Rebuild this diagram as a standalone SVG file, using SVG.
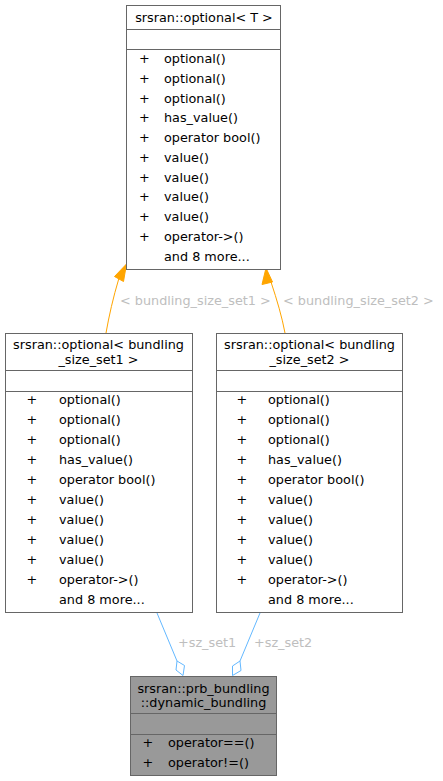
<svg xmlns="http://www.w3.org/2000/svg" width="443" height="781" viewBox="0 0 443 781">
<style>
text{font-family:"DejaVu Sans",sans-serif;font-size:12.8px;fill:#000}
.c{text-anchor:middle}
.box{fill:#fff;stroke:#666;stroke-width:1}
.sel{fill:#999;stroke:#666;stroke-width:1}
.ln{stroke:#666;stroke-width:1}
.lbl{fill:#bebebe}
.inh{fill:none;stroke:#ffa500;stroke-width:1}
.agg{fill:none;stroke:#63b8ff;stroke-width:1}
</style>
<rect width="443" height="781" fill="#fff"/>
<g id="edges">
<path class="inh" d="M106,333 C109,316 113,298 119,278"/>
<polygon points="114.5,276.5 126.5,264 123.5,281.5" fill="#ffa500" stroke="#ffa500"/>
<text class="lbl" x="120" y="305">&lt; bundling_size_set1 &gt;</text>
<path class="inh" d="M285,333 C282,317 277,300 271,282"/>
<polygon points="262,284.5 266,268 272.5,282" fill="#ffa500" stroke="#ffa500"/>
<text class="lbl" x="283" y="305">&lt; bundling_size_set2 &gt;</text>
<path class="agg" d="M157,613 L177,661"/>
<polygon points="177,661 184.5,665.5 183,675.5 176,670" fill="#fff" stroke="#63b8ff"/>
<text class="lbl" x="178" y="647">+sz_set1</text>
<path class="agg" d="M260,613 L240,661"/>
<polygon points="240,661 241,670.5 232.5,675.5 232.5,666" fill="#fff" stroke="#63b8ff"/>
<text class="lbl" x="254" y="647">+sz_set2</text>
</g>
<g id="node_optional_T">
<rect class="box" x="126.5" y="5.5" width="154" height="264"/>
<line class="ln" x1="126.5" y1="29.5" x2="280.5" y2="29.5"/>
<line class="ln" x1="126.5" y1="49.5" x2="280.5" y2="49.5"/>
<text class="c" x="204" y="22">srsran::optional&lt; T &gt;</text>
<text x="139" y="63">+</text><text x="164" y="63">optional()</text>
<text x="139" y="82.75">+</text><text x="164" y="82.75">optional()</text>
<text x="139" y="102.5">+</text><text x="164" y="102.5">optional()</text>
<text x="139" y="122.25">+</text><text x="164" y="122.25">has_value()</text>
<text x="139" y="142">+</text><text x="164" y="142">operator bool()</text>
<text x="139" y="161.75">+</text><text x="164" y="161.75">value()</text>
<text x="139" y="181.5">+</text><text x="164" y="181.5">value()</text>
<text x="139" y="201.25">+</text><text x="164" y="201.25">value()</text>
<text x="139" y="221">+</text><text x="164" y="221">value()</text>
<text x="139" y="240.75">+</text><text x="164" y="240.75">operator-&gt;()</text>
<text x="164" y="260.5">and 8 more...</text>
</g>
<g id="node_optional_set1">
<rect class="box" x="5.5" y="333.5" width="187" height="279"/>
<line class="ln" x1="5.5" y1="370.5" x2="192.5" y2="370.5"/>
<line class="ln" x1="5.5" y1="391.5" x2="192.5" y2="391.5"/>
<text class="c" x="98.5" y="349.3">srsran::optional&lt; bundling</text>
<text class="c" x="98.5" y="364.3">_size_set1 &gt;</text>
<text x="26.5" y="403.5">+</text><text x="59" y="403.5">optional()</text>
<text x="26.5" y="423.5">+</text><text x="59" y="423.5">optional()</text>
<text x="26.5" y="443.5">+</text><text x="59" y="443.5">optional()</text>
<text x="26.5" y="463.5">+</text><text x="59" y="463.5">has_value()</text>
<text x="26.5" y="483.5">+</text><text x="59" y="483.5">operator bool()</text>
<text x="26.5" y="503.5">+</text><text x="59" y="503.5">value()</text>
<text x="26.5" y="523.5">+</text><text x="59" y="523.5">value()</text>
<text x="26.5" y="543.5">+</text><text x="59" y="543.5">value()</text>
<text x="26.5" y="563.5">+</text><text x="59" y="563.5">value()</text>
<text x="26.5" y="583.5">+</text><text x="59" y="583.5">operator-&gt;()</text>
<text x="59" y="603.5">and 8 more...</text>
</g>
<g id="node_optional_set2">
<rect class="box" x="216.5" y="333.5" width="186" height="279"/>
<line class="ln" x1="216.5" y1="370.5" x2="402.5" y2="370.5"/>
<line class="ln" x1="216.5" y1="391.5" x2="402.5" y2="391.5"/>
<text class="c" x="309.5" y="349.3">srsran::optional&lt; bundling</text>
<text class="c" x="309.5" y="364.3">_size_set2 &gt;</text>
<text x="236.5" y="403.5">+</text><text x="268" y="403.5">optional()</text>
<text x="236.5" y="423.5">+</text><text x="268" y="423.5">optional()</text>
<text x="236.5" y="443.5">+</text><text x="268" y="443.5">optional()</text>
<text x="236.5" y="463.5">+</text><text x="268" y="463.5">has_value()</text>
<text x="236.5" y="483.5">+</text><text x="268" y="483.5">operator bool()</text>
<text x="236.5" y="503.5">+</text><text x="268" y="503.5">value()</text>
<text x="236.5" y="523.5">+</text><text x="268" y="523.5">value()</text>
<text x="236.5" y="543.5">+</text><text x="268" y="543.5">value()</text>
<text x="236.5" y="563.5">+</text><text x="268" y="563.5">value()</text>
<text x="236.5" y="583.5">+</text><text x="268" y="583.5">operator-&gt;()</text>
<text x="268" y="603.5">and 8 more...</text>
</g>
<g id="node_dynamic_bundling">
<rect class="sel" x="130.5" y="676.5" width="146" height="99"/>
<line class="ln" x1="130.5" y1="713.5" x2="276.5" y2="713.5"/>
<line class="ln" x1="130.5" y1="734.5" x2="276.5" y2="734.5"/>
<text class="c" x="203.5" y="692.7">srsran::prb_bundling</text>
<text class="c" x="203.5" y="706.5">::dynamic_bundling</text>
<text x="142.5" y="746.7">+</text><text x="168" y="746.7">operator==()</text>
<text x="142.5" y="766.7">+</text><text x="168" y="766.7">operator!=()</text>
</g>
</svg>
